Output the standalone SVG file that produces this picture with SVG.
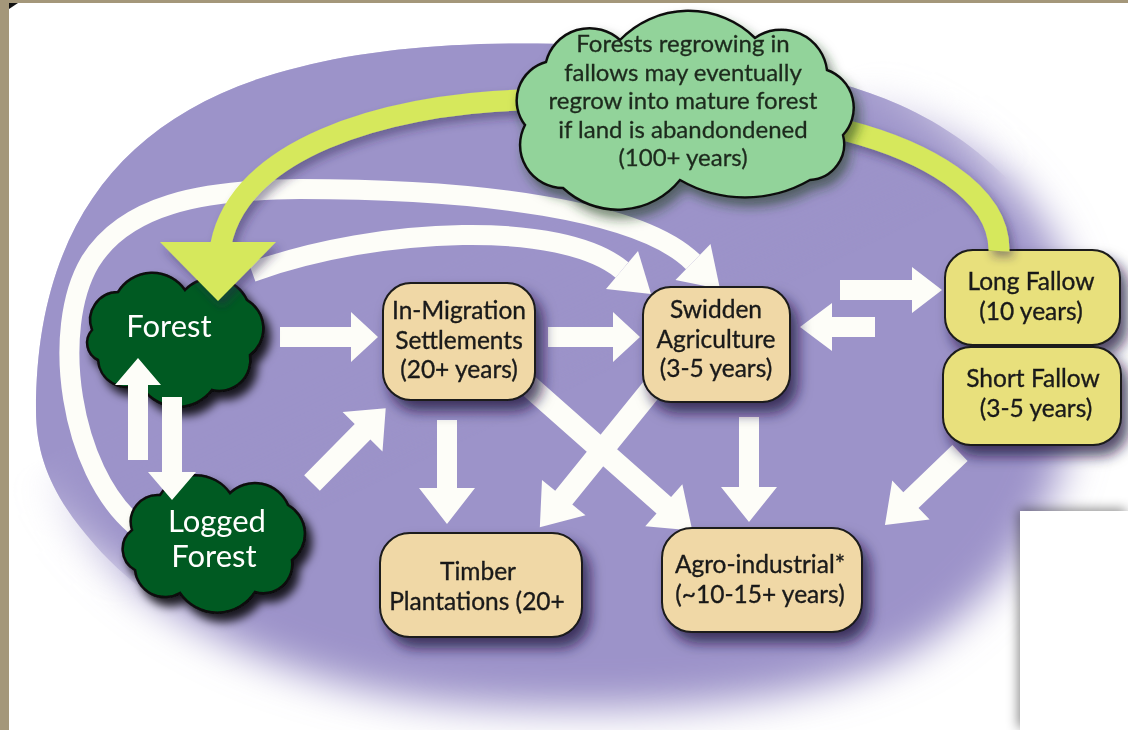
<svg xmlns="http://www.w3.org/2000/svg" width="1128" height="730" viewBox="0 0 1128 730">
  <defs>
    <style>
      .box{fill:#f0d8a6;stroke:#1a1a1a;stroke-width:2}
      .fallow{fill:#e8e07c;stroke:#1a1a1a;stroke-width:2}
      .dark{fill:#035a20;stroke:#0a0a0a;stroke-width:2.5}
      .lightcloud{fill:#92d39a;stroke:#111;stroke-width:2.5}
      .t{font-family:Lato,"Open Sans","DejaVu Sans",sans-serif;font-size:24.5px;fill:#1a1a1a;stroke:#1a1a1a;stroke-width:0.35;text-anchor:middle}
      .ct{font-family:Lato,"Open Sans","DejaVu Sans",sans-serif;font-size:24px;fill:#1e2a1e;stroke:#1e2a1e;stroke-width:0.3;text-anchor:middle}
      .wt{font-family:Lato,"Open Sans","DejaVu Sans",sans-serif;font-size:31px;fill:#ffffff;text-anchor:middle}
      .arr{fill:#fdfdf8}
      .curve{fill:none;stroke:#fdfdf8;stroke-width:20}
      .green{fill:none;stroke:#d6e85c;stroke-width:21}
    </style>
    <filter id="nodeShadow" x="-30%" y="-30%" width="170%" height="180%">
      <feDropShadow dx="7" dy="10" stdDeviation="7" flood-color="#1b0f3a" flood-opacity="0.75"/>
    </filter>
    <filter id="darkShadow" x="-30%" y="-30%" width="170%" height="170%">
      <feDropShadow dx="6" dy="8" stdDeviation="5" flood-color="#000" flood-opacity="0.85"/>
    </filter>
    <filter id="cloudShadow" x="-20%" y="-20%" width="150%" height="160%">
      <feDropShadow dx="5" dy="8" stdDeviation="6" flood-color="#1d3a20" flood-opacity="0.6"/>
    </filter>
    <filter id="greenShadow" x="-20%" y="-20%" width="150%" height="150%">
      <feDropShadow dx="4" dy="6" stdDeviation="5" flood-color="#2a2050" flood-opacity="0.45"/>
    </filter>
    <filter id="soft" x="-10%" y="-10%" width="120%" height="120%">
      <feGaussianBlur stdDeviation="20"/>
    </filter>
    <filter id="panelShadow" x="-30%" y="-20%" width="160%" height="140%">
      <feDropShadow dx="-2" dy="-2" stdDeviation="6" flood-color="#000" flood-opacity="0.45"/>
    </filter>
    <linearGradient id="edgeFade" gradientUnits="userSpaceOnUse" x1="185" y1="388" x2="259" y2="541">
      <stop offset="0" stop-color="#fff"/>
      <stop offset="1" stop-color="#000"/>
    </linearGradient>
    <linearGradient id="edgeFadeInv" gradientUnits="userSpaceOnUse" x1="185" y1="388" x2="259" y2="541">
      <stop offset="0" stop-color="#000"/>
      <stop offset="1" stop-color="#fff"/>
    </linearGradient>
    <path id="field" d="M36,410 C36,230 120,110 300,67 C460,25 750,40 900,105 C990,145 1075,230 1078,330 C1082,470 1030,570 930,640 C830,705 650,715 480,705 C300,695 160,620 95,545 C55,500 36,460 36,410 Z"/>
    <!-- crisp rim only toward the upper left -->
    <mask id="sharpPart" maskUnits="userSpaceOnUse" x="0" y="0" width="1128" height="730">
      <rect x="0" y="0" width="1128" height="730" fill="url(#edgeFade)"/>
    </mask>
    <!-- blurred copy: full inside the field, halo only toward the lower right -->
    <mask id="softPart" maskUnits="userSpaceOnUse" x="0" y="0" width="1128" height="730">
      <rect x="0" y="0" width="1128" height="730" fill="url(#edgeFadeInv)"/>
      <use href="#field" fill="#fff"/>
    </mask>
  </defs>

  <!-- page and frame -->
  <rect x="0" y="0" width="1128" height="730" fill="#ffffff"/>
  <rect x="0" y="0" width="9" height="730" fill="#a4977a"/>
  <rect x="0" y="0" width="1128" height="3" fill="#a4977a"/>
  <path d="M9,3 H18 L9,9 Z" fill="#111"/>

  <!-- purple land-use field -->
  <g mask="url(#softPart)">
    <use href="#field" fill="#9c93c9" filter="url(#soft)"/>
  </g>
  <g mask="url(#sharpPart)">
    <use href="#field" fill="#9c93c9"/>
  </g>

  <!-- connectors -->
  <g id="connectors">
    <!-- long curve: Logged Forest to Swidden Agriculture -->
    <path class="curve" d="M135,525 C70,470 50,330 90,262 C125,205 200,190 300,189 C480,189 640,210 693,262"/>
    <polygon class="arr" points="710.5,244 720,289 675.5,280"/>
    <!-- curve: Forest to Swidden Agriculture -->
    <path class="curve" d="M252,272 C380,226 562,220 622,270"/>
    <polygon class="arr" points="638,251 651,294 606,289"/>

    <!-- straight arrows -->
    <path class="arr" transform="translate(280,337)" d="M0,-10 H71 V-25 L98,0 L71,25 V10 H0 Z"/>
    <path class="arr" transform="translate(548,337)" d="M0,-10 H65 V-25 L92,0 L65,25 V10 H0 Z"/>
    <path class="arr" transform="translate(840,290)" d="M0,-10 H72 V-23 L102,0 L72,23 V10 H0 Z"/>
    <path class="arr" transform="translate(875,327) rotate(180)" d="M0,-10 H43 V-24 L75,0 L43,24 V10 H0 Z"/>
    <path class="arr" transform="translate(312,483) rotate(-45.4)" d="M0,-11 H72 V-28 L105,0 L72,28 V11 H0 Z"/>
    <path class="arr" transform="translate(447,420) rotate(90)" d="M0,-10 H68 V-28 L104,0 L68,28 V10 H0 Z"/>
    <path class="arr" transform="translate(520,378) rotate(41.5)" d="M0,-11 H192 V-28 L230,0 L192,28 V11 H0 Z"/>
    <path class="arr" transform="translate(655,385) rotate(129)" d="M0,-11 H145 V-28 L183,0 L145,28 V11 H0 Z"/>
    <path class="arr" transform="translate(749,417) rotate(90)" d="M0,-10 H70 V-28 L105,0 L70,28 V10 H0 Z"/>
    <path class="arr" transform="translate(960,453) rotate(136.2)" d="M0,-11 H68 V-27 L104,0 L68,27 V11 H0 Z"/>
  </g>

  <!-- nodes -->
  <g id="forest" filter="url(#darkShadow)">
    <path class="dark" d="M92,330 A28,28 0 0 1 118,292 A40,40 0 0 1 185,290 A38,38 0 0 1 247,300 A33,33 0 0 1 250,355 A31,31 0 0 1 212,390 A43,43 0 0 1 140,384 A29,29 0 0 1 98,360 A19,19 0 0 1 92,330 Z"/>
    <text class="wt" x="169" y="337">Forest</text>
  </g>
  <g id="logged-forest" filter="url(#darkShadow)">
    <path class="dark" d="M132,530 A27,27 0 0 1 160,495 A42,42 0 0 1 230,493 A36,36 0 0 1 288,505 A33,33 0 0 1 292,560 A29,29 0 0 1 255,592 A45,45 0 0 1 180,593 A30,30 0 0 1 135,570 A24,24 0 0 1 132,530 Z"/>
    <text class="wt" x="217" y="532">Logged</text>
    <text class="wt" x="214" y="567">Forest</text>
  </g>

  <!-- Forest / Logged Forest exchange arrows sit over the clouds -->
  <g id="forest-exchange">
    <path class="arr" transform="translate(138,460) rotate(-90)" d="M0,-10 H75 V-23 L102,0 L75,23 V10 H0 Z"/>
    <path class="arr" transform="translate(172,397) rotate(90)" d="M0,-10 H75 V-24 L103,0 L75,24 V10 H0 Z"/>
  </g>

  <g id="in-migration" filter="url(#nodeShadow)">
    <rect class="box" x="383" y="283" width="152" height="117" rx="28"/>
    <text class="t" x="459" y="319">In-Migration</text>
    <text class="t" x="459" y="349">Settlements</text>
    <text class="t" x="459" y="378">(20+ years)</text>
  </g>
  <g id="swidden" filter="url(#nodeShadow)">
    <rect class="box" x="643" y="287" width="147" height="115" rx="28"/>
    <text class="t" x="716" y="318">Swidden</text>
    <text class="t" x="716" y="348">Agriculture</text>
    <text class="t" x="716" y="377">(3-5 years)</text>
  </g>
  <g id="long-fallow" filter="url(#nodeShadow)">
    <rect class="fallow" x="945" y="250" width="175" height="95" rx="28"/>
    <text class="t" x="1031" y="290">Long Fallow</text>
    <text class="t" x="1031" y="320">(10 years)</text>
  </g>
  <g id="short-fallow" filter="url(#nodeShadow)">
    <rect class="fallow" x="943" y="347" width="178" height="98" rx="28"/>
    <text class="t" x="1033" y="387">Short Fallow</text>
    <text class="t" x="1036" y="417">(3-5 years)</text>
  </g>
  <g id="timber" filter="url(#nodeShadow)">
    <rect class="box" x="380" y="533" width="202" height="104" rx="30"/>
    <text class="t" x="478" y="580">Timber</text>
    <text class="t" x="477" y="610">Plantations (20+</text>
  </g>
  <g id="agro-industrial" filter="url(#nodeShadow)">
    <rect class="box" x="662" y="528" width="200" height="104" rx="30"/>
    <text class="t" x="760" y="573">Agro-industrial*</text>
    <text class="t" x="760" y="603">(~10-15+ years)</text>
  </g>

  <!-- regrowth path: Long Fallow back to Forest -->
  <g id="regrowth" filter="url(#greenShadow)">
    <path class="green" d="M999,251 C1000,190 920,150 848,131 C760,108 620,95 520,100 C380,105 240,150 221,244"/>
    <polygon fill="#d6e85c" points="160,242 276,242 218,301"/>
  </g>

  <g id="regrowth-note" filter="url(#cloudShadow)">
    <path class="lightcloud" d="M525,125 A40,40 0 0 1 546,62 A45,45 0 0 1 620,40 A95,95 0 0 1 755,38 A46,46 0 0 1 827,70 A40,40 0 0 1 843,135 A36,36 0 0 1 810,180 A130,130 0 0 1 680,180 A80,80 0 0 1 563,188 A43,43 0 0 1 525,125 Z"/>
    <text class="ct" x="683" y="52">Forests regrowing in</text>
    <text class="ct" x="683" y="81">fallows may eventually</text>
    <text class="ct" x="683" y="109">regrow into mature forest</text>
    <text class="ct" x="683" y="138">if land is abandondened</text>
    <text class="ct" x="683" y="166">(100+ years)</text>
  </g>

  <!-- blank panel at lower right -->
  <rect x="1020" y="511" width="108" height="219" fill="#ffffff" filter="url(#panelShadow)"/>
</svg>
